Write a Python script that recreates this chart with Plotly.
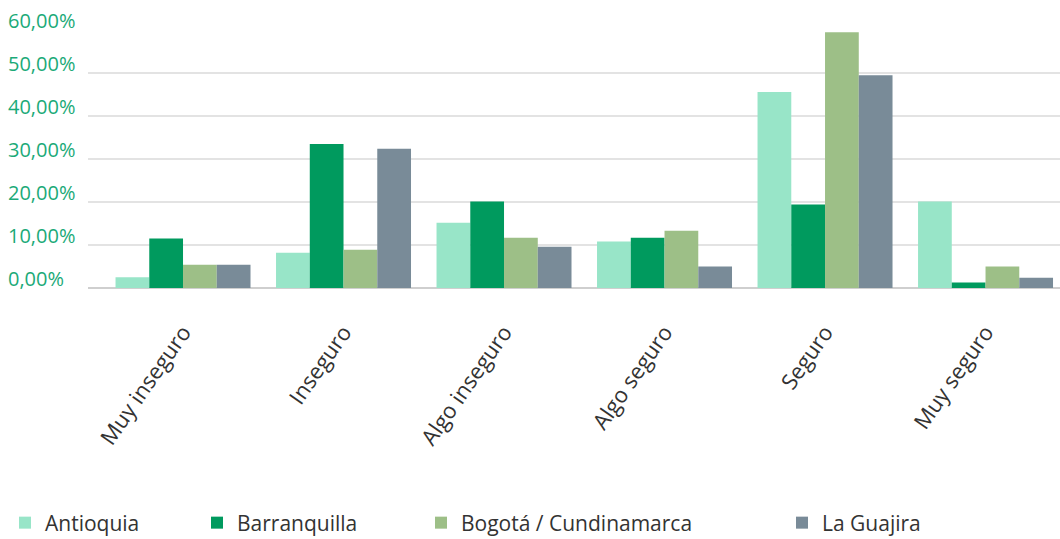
import plotly.graph_objects as go

categories = ["Muy inseguro", "Inseguro", "Algo inseguro", "Algo seguro", "Seguro", "Muy seguro"]
antioquia = [0.025, 0.082, 0.152, 0.108, 0.456, 0.201]
barranquilla = [0.115, 0.335, 0.201, 0.117, 0.194, 0.013]
bogota = [0.054, 0.089, 0.117, 0.133, 0.595, 0.050]
guajira = [0.054, 0.324, 0.096, 0.050, 0.495, 0.024]
series_names = ["Antioquia", "Barranquilla", "Bogotá / Cundinamarca", "La Guajira"]
tick_values = [0, 0.1, 0.2, 0.3, 0.4, 0.5, 0.6]
tick_labels = ["0,00%", "10,00%", "20,00%", "30,00%", "40,00%", "50,00%", "60,00%"]

colors = ["#98E5C8", "#009A5E", "#9DBF87", "#798B98"]
legend_px = [5, 197, 421, 782]
FONT = "Open Sans"

fig = go.Figure()
all_series = [antioquia, barranquilla, bogota, guajira]
legend_ids = ["legend", "legend2", "legend3", "legend4"]
for name, vals, col, lid in zip(series_names, all_series, colors, legend_ids):
    fig.add_trace(go.Bar(x=categories, y=vals, name=name, marker_color=col,
                         marker_line_width=0, legend=lid))

L, R, T, B = 88, 0, 30, 250.5
W, H = 1060, 539
pw = W - L - R

layout_legends = {}
for lid, lx in zip(legend_ids, legend_px):
    layout_legends[lid] = dict(
        x=lx / W, y=1 - 523 / H, xref="container", yref="container",
        xanchor="left", yanchor="middle", orientation="h",
        font=dict(family=FONT, size=21, color="#333333"),
        bgcolor="rgba(0,0,0,0)", itemwidth=30, tracegroupgap=0,
    )

fig.update_layout(
    width=W, height=H,
    margin=dict(l=L, r=R, t=T, b=B),
    plot_bgcolor="white", paper_bgcolor="white",
    barmode="group", bargap=0.159, bargroupgap=0,
    font=dict(family=FONT, size=18, color="#333333"),
    showlegend=True,
    **layout_legends,
)
fig.update_yaxes(range=[0, 0.6], tickvals=tick_values, showticklabels=False,
                 showgrid=True, gridcolor="#e3e3e3", gridwidth=2,
                 zeroline=True, zerolinecolor="#cfcfcf", zerolinewidth=2, fixedrange=True)
fig.update_xaxes(range=[-0.592, 5.464], tickangle=-55, ticklabelstandoff=26, showline=False,
                 tickfont=dict(family=FONT, size=22, color="#333333"))

for v, t in zip(tick_values, tick_labels):
    fig.add_annotation(text=t, x=(6 - L) / pw, xref="paper", y=v, yref="y",
                       xanchor="left", yanchor="middle", yshift=10, showarrow=False,
                       font=dict(family=FONT, size=20, color="#1BAA78"))

fig.write_html("out.html")
